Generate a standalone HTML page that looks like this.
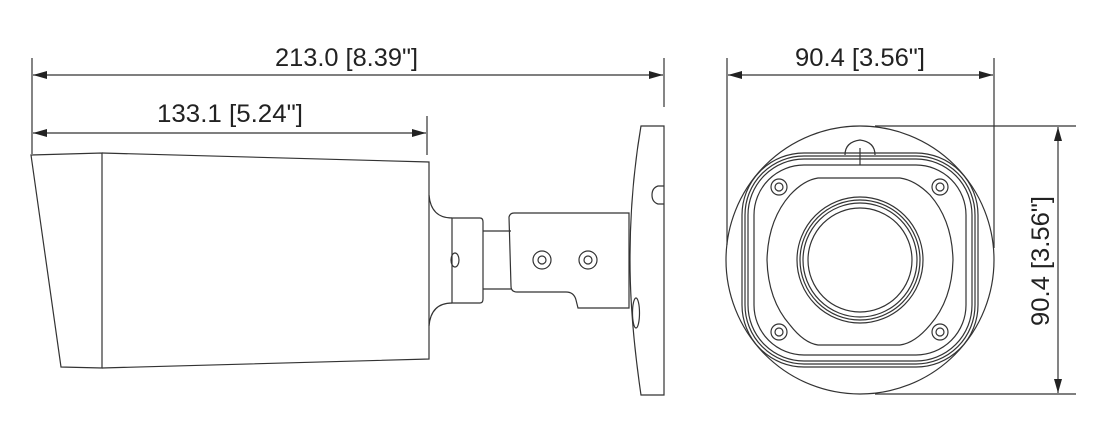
<!DOCTYPE html>
<html><head><meta charset="utf-8"><style>
html,body{margin:0;padding:0;background:#fff;}
svg{display:block;}
text{font-family:"Liberation Sans",sans-serif;font-size:25px;fill:#222;}
</style></head><body>
<svg width="1104" height="442" viewBox="0 0 1104 442" xmlns="http://www.w3.org/2000/svg">
<defs>
<marker id="a" markerWidth="14" markerHeight="8" refX="14" refY="4" orient="auto" markerUnits="userSpaceOnUse">
<path d="M0,0 L14,4 L0,8 Z" fill="#222"/></marker>
<marker id="b" markerWidth="14" markerHeight="8" refX="0" refY="4" orient="auto" markerUnits="userSpaceOnUse">
<path d="M14,0 L0,4 L14,8 Z" fill="#222"/></marker>
</defs>
<g stroke="#333" stroke-width="1.2" fill="none">
<line x1="32" y1="58" x2="32" y2="154"/>
<line x1="664" y1="58" x2="664" y2="107"/>
<line x1="427" y1="116" x2="427" y2="155"/>
<line x1="33" y1="75" x2="663" y2="75" marker-start="url(#b)" marker-end="url(#a)"/>
<line x1="33" y1="133" x2="426" y2="133" marker-start="url(#b)" marker-end="url(#a)"/>
<line x1="727" y1="58" x2="727" y2="245"/>
<line x1="994" y1="58" x2="994" y2="248"/>
<line x1="728" y1="75" x2="993" y2="75" marker-start="url(#b)" marker-end="url(#a)"/>
<line x1="875" y1="126" x2="1076" y2="126"/>
<line x1="875" y1="394" x2="1076" y2="394"/>
<line x1="1058" y1="127" x2="1058" y2="393" marker-start="url(#b)" marker-end="url(#a)"/>
<!-- side view -->
<path d="M31,155 L102,153 L102,368 L61,367 Z"/>
<path d="M102,153 L429,162 L429,359 L102,368"/>
<path d="M429,195 Q431,218 452,218 M429,326 Q431,303 452,303"/>
<path d="M452,218 L480,218 Q483,218 483,222 L483,299 Q483,303 480,303 L452,303 Z"/>
<path d="M483,231 L511,231 M483,289 L511,289"/>
<path d="M509,217 Q510,213 514,213 L629,213 L629,308 L578,308 L576,300 Q574,292 566,292 L517,292 Q511,292 511,286 Z"/>
<circle cx="542" cy="260" r="9"/><circle cx="542" cy="260" r="4"/>
<circle cx="588" cy="260" r="9"/><circle cx="588" cy="260" r="4"/>
<ellipse cx="455" cy="260" rx="4" ry="7"/>
<path d="M641,126 L664,126 L664,395 L641,395 Q630,320 630,260 Q630,190 641,126 Z"/>
<path d="M664,186 L658,186 Q652,188 652,195 Q652,202 658,204 L664,204"/>
<ellipse cx="636" cy="313" rx="3.5" ry="15"/>
<!-- front view -->
<circle cx="860" cy="260" r="134"/>
<path d="M845,155 Q845,142 860,140 Q875,142 875,155"/>
<line x1="860" y1="148" x2="860" y2="165"/>
<rect x="742" y="153" width="236" height="214" rx="62" ry="62"/>
<rect x="745" y="156" width="230" height="208" rx="59" ry="59"/>
<rect x="748" y="159" width="224" height="202" rx="56" ry="56"/>
<rect x="754" y="165" width="212" height="190" rx="50" ry="50"/>
<path d="M818,178 L900,178 Q915,180 930,195 Q952,220 953,260 Q952,300 930,325 Q915,343 900,345 L818,345 Q804,343 790,325 Q768,300 767,260 Q768,220 790,195 Q804,180 818,178 Z"/>
<circle cx="860" cy="260" r="63"/><circle cx="860" cy="260" r="60"/><circle cx="860" cy="260" r="57"/><circle cx="860" cy="260" r="52"/>
<circle cx="779" cy="187" r="8"/><circle cx="779" cy="187" r="4"/>
<circle cx="940" cy="187" r="8"/><circle cx="940" cy="187" r="4"/>
<circle cx="779" cy="332" r="8"/><circle cx="779" cy="332" r="4"/>
<circle cx="940" cy="332" r="8"/><circle cx="940" cy="332" r="4"/>
</g>
<text x="275" y="66" textLength="143" lengthAdjust="spacingAndGlyphs">213.0 [8.39"]</text>
<text x="157" y="122" textLength="146" lengthAdjust="spacingAndGlyphs">133.1 [5.24"]</text>
<text x="795" y="66" textLength="130" lengthAdjust="spacingAndGlyphs">90.4 [3.56"]</text>
<text transform="translate(1049,326) rotate(-90)" textLength="130" lengthAdjust="spacingAndGlyphs">90.4 [3.56"]</text>
</svg>
</body></html>
